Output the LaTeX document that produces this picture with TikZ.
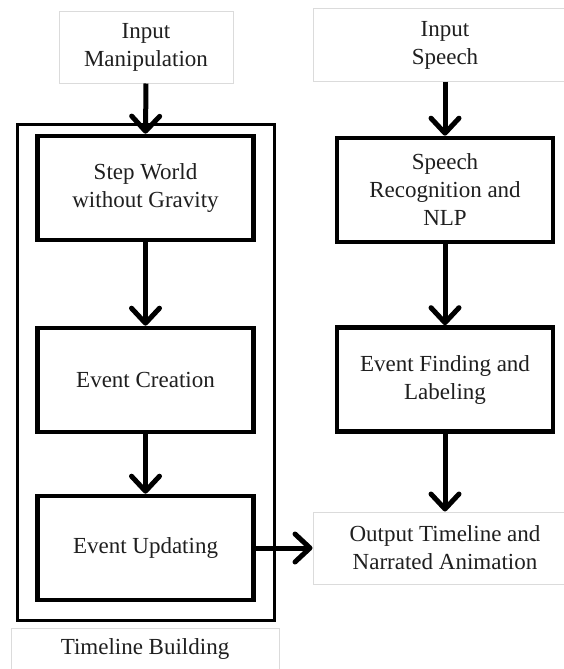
\documentclass[tikz,border=0pt]{standalone}
\usepackage{fontspec}
\setmainfont{Liberation Serif}
\usetikzlibrary{arrows.meta}
\begin{document}
\begin{tikzpicture}[x=1pt,y=-1pt,
  every node/.style={font=\fontsize{23}{28}\selectfont, text=black!88, align=center, inner sep=0pt},
  proc/.style={draw=black, line width=4.6pt, minimum width=216pt, minimum height=104pt, rectangle},
  io/.style={draw=black!14, line width=1pt, rectangle},
  group/.style={draw=black, line width=3.5pt},
  flow/.style={line width=5pt, -{Straight Barb[length=15pt,width=28pt,line width=5pt,round]}}
]
\useasboundingbox (0,0) rectangle (564,669);
\clip (0,0) rectangle (564,669);
\fill[white] (0,0) rectangle (564,669);
% left column
\node[io, minimum width=174pt, minimum height=71pt] (inM) at (146,47.5) {Input\\Manipulation};
\node[group, minimum width=257pt, minimum height=496pt] (grp) at (146,372.5) {};
\node[proc] (sw) at (145.5,188) {Step World\\without Gravity};
\node[proc] (ec) at (145.5,380) {Event Creation};
\node[proc] (eu) at (145.5,548) {Event Updating};
\node[io, minimum width=268pt, minimum height=48pt] (tb) at (145,652) {};
\node (tbl) at (145,649) {Timeline Building};
% right column
\node[io, minimum width=264pt, minimum height=72pt] (inS) at (445,45) {Input\\Speech};
\node[proc] (sr) at (445,190) {Speech\\Recognition and\\NLP};
\node[proc] (ef) at (445,379.5) {Event Finding and\\Labeling};
\node[io, minimum width=264pt, minimum height=72pt] (out) at (445,548) {Output Timeline and\\Narrated Animation};
% connectors
\draw[flow] (inM.south) -- (sw.north);
\draw[flow] (sw.south) -- (ec.north);
\draw[flow] (ec.south) -- (eu.north);
\draw[flow] (eu.east) -- (out.west);
\draw[flow] (inS.south) -- (sr.north);
\draw[flow] (sr.south) -- (ef.north);
\draw[flow] (ef.south) -- (out.north);
\end{tikzpicture}
\end{document}
